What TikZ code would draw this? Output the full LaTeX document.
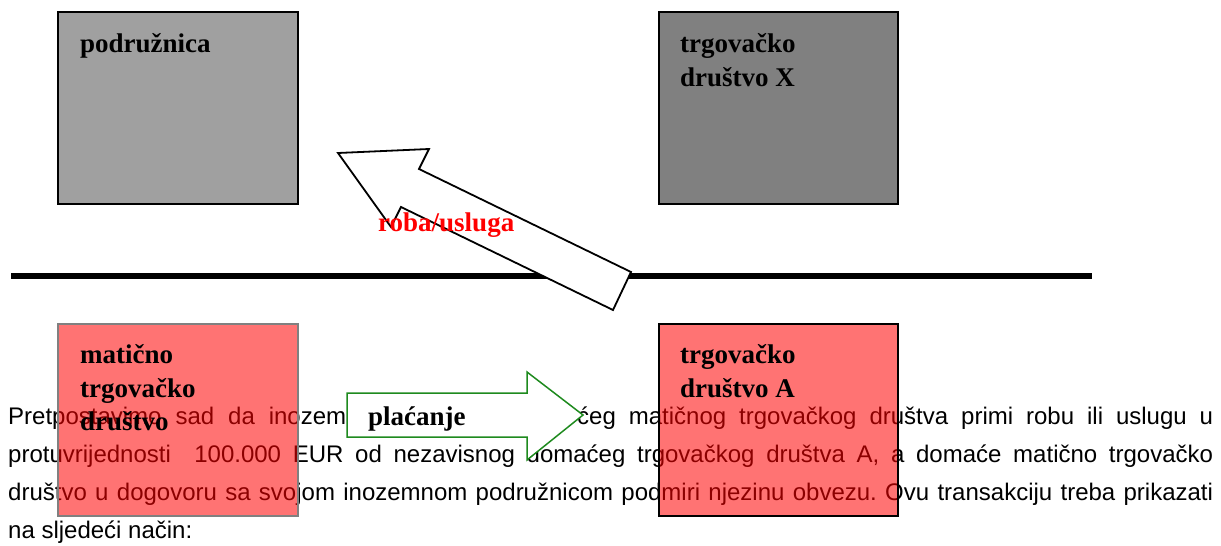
\documentclass[tikz,border=0pt]{standalone}
\usepackage{fontspec}
\setmainfont{Liberation Serif}
\setsansfont{Liberation Sans}
\definecolor{boxgray}{HTML}{A0A0A0}
\definecolor{darkgray}{HTML}{808080}
\definecolor{paygreen}{HTML}{1E8A1E}

\begin{document}
\frenchspacing
\begin{tikzpicture}[x=1pt, y=-1pt,
    txt/.style={anchor=base west, inner sep=0pt, font=\sffamily\fontsize{24}{28}\selectfont},
    lbl/.style={anchor=base west, inner sep=0pt, font=\bfseries\fontsize{27}{34}\selectfont},
    firm/.style={line width=2pt}]
    \useasboundingbox (0,0) rectangle (1221,546);

    % tekst ispod slike
    \node[txt] (l1a) at (8,424) {\makebox[338pt][s]{Pretpostavimo sad da inozem}};
    \node[txt] (l1b) at (577,424) {\makebox[636pt][s]{ćeg matičnog trgovačkog društva primi robu ili uslugu u}};
    \node[txt] (l2) at (8,462) {\makebox[1205pt][s]{protuvrijednosti \ 100.000 EUR od nezavisnog domaćeg trgovačkog društva A, a domaće matično trgovačko}};
    \node[txt] (l3) at (8,500) {\makebox[1205pt][s]{društvo u dogovoru sa svojom inozemnom podružnicom podmiri njezinu obvezu. Ovu transakciju treba prikazati}};
    \node[txt] (l4) at (8,538) {na sljedeći način:};

    % granica
    \draw[line width=6pt] (11,276) -- (1092,276);

    % pravne osobe
    \draw[firm, fill=boxgray] (58,12) rectangle (298,204);
    \draw[firm, fill=darkgray] (659,12) rectangle (898,204);
    \draw[firm, draw=darkgray, fill=red, fill opacity=0.55] (58,324) rectangle (298,516);
    \draw[firm, fill=red, fill opacity=0.55] (659,324) rectangle (898,516);

    % roba/usluga
    \draw[line width=1.8pt, fill=white] (338,153) -- (429,149) -- (419,169) -- (631,272)
        -- (613,310) -- (401,207) -- (391,227) -- cycle;
    \node[lbl, text=red] (roba) at (378,231) {roba/usluga};

    % placanje
    \draw[line width=1.5pt, draw=paygreen, fill=white] (347,393) -- (527,393) -- (527,372)
        -- (583,415) -- (527,460) -- (527,437) -- (347,437) -- cycle;
    \node[lbl] (plac) at (368,425) {plaćanje};

    \node[lbl] (podr) at (80,52) {podružnica};
    \node[lbl] (xa) at (680,52) {trgovačko};
    \node[lbl] (xb) at (680,86) {društvo X};
    \node[lbl] (ma) at (80,363) {matično};
    \node[lbl] (mb) at (80,397) {trgovačko};
    \node[lbl] (mc) at (80,430) {društvo};
    \node[lbl] (aa) at (680,363) {trgovačko};
    \node[lbl] (ab) at (680,397) {društvo A};
\end{tikzpicture}
\end{document}
